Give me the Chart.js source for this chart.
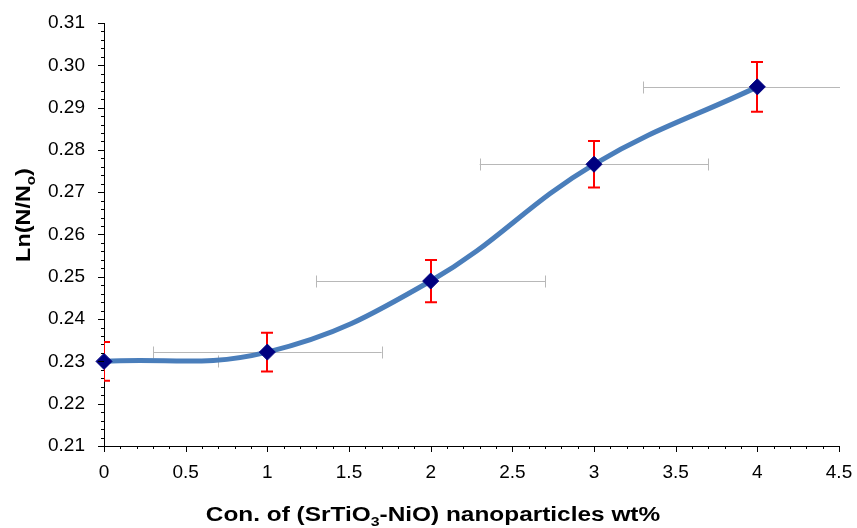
<!DOCTYPE html>
<html>
<head>
<meta charset="utf-8">
<script src="https://cdn.jsdelivr.net/npm/chart.js@4.4.0/dist/chart.umd.min.js"></script>
<style>
  html, body { margin: 0; padding: 0; background: #fff; }
  #wrap { width: 857px; height: 528px; }
</style>
</head>
<body>
<div id="wrap"><canvas id="chart"></canvas></div>
<script>
// concentration (wt%) and Ln(N/No)
const conc = [0, 1, 2, 3, 4];
const lnRatio = [0.2300, 0.2322, 0.2490, 0.2766, 0.2949];
const yErr = [0.0046, 0.0046, 0.0050, 0.0055, 0.0059];
const xErr = [0.7, 0.7, 0.7, 0.7, 0.7];

const points = conc.map((c, i) => ({ x: c, y: lnRatio[i] }));

// error bars, drawn behind the line
const errorBars = {
  id: 'errorBars',
  beforeDatasetsDraw(chart) {
    const { ctx, chartArea, scales } = chart;
    const xs = scales.x, ys = scales.y;
    ctx.save();
    ctx.beginPath();
    ctx.rect(chartArea.left, chartArea.top - 20, chartArea.right - chartArea.left + 1, chartArea.bottom - chartArea.top + 40);
    ctx.clip();
    // horizontal (grey)
    ctx.strokeStyle = '#b8b8b8';
    ctx.lineWidth = 1;
    conc.forEach((c, i) => {
      const y = Math.round(ys.getPixelForValue(lnRatio[i])) + 0.5;
      const x1 = xs.getPixelForValue(c - xErr[i]);
      const x2 = xs.getPixelForValue(c + xErr[i]);
      ctx.beginPath();
      ctx.moveTo(x1, y); ctx.lineTo(x2, y);
      ctx.moveTo(Math.round(x1) + 0.5, y - 6); ctx.lineTo(Math.round(x1) + 0.5, y + 6);
      ctx.moveTo(Math.round(x2) + 0.5, y - 6); ctx.lineTo(Math.round(x2) + 0.5, y + 6);
      ctx.stroke();
    });
    // vertical (red)
    ctx.strokeStyle = '#ff0000';
    ctx.lineWidth = 2;
    conc.forEach((c, i) => {
      const x = Math.round(xs.getPixelForValue(c));
      const y1 = ys.getPixelForValue(lnRatio[i] + yErr[i]);
      const y2 = ys.getPixelForValue(lnRatio[i] - yErr[i]);
      ctx.beginPath();
      ctx.moveTo(x, y1); ctx.lineTo(x, y2);
      ctx.moveTo(x - 6, y1); ctx.lineTo(x + 6, y1);
      ctx.moveTo(x - 6, y2); ctx.lineTo(x + 6, y2);
      ctx.stroke();
    });
    ctx.restore();
  }
};

// major + minor tick marks and axis titles with subscripts
const axisDecor = {
  id: 'axisDecor',
  afterDraw(chart) {
    const { ctx, chartArea, scales } = chart;
    const xs = scales.x, ys = scales.y;
    ctx.save();
    ctx.strokeStyle = '#000';
    ctx.lineWidth = 1;
    ctx.beginPath();
    for (let k = 0; k <= 50; k++) {
      const v = 0.21 + k * 0.002;
      const y = Math.round(ys.getPixelForValue(v)) + 0.5;
      const len = k % 5 === 0 ? 6 : 3;
      ctx.moveTo(chartArea.left - len, y); ctx.lineTo(chartArea.left, y);
    }
    for (let k = 0; k <= 45; k++) {
      const v = k * 0.1;
      const x = Math.round(xs.getPixelForValue(v)) + 0.5;
      const len = k % 5 === 0 ? 6 : 3;
      ctx.moveTo(x, chartArea.bottom); ctx.lineTo(x, chartArea.bottom + len);
    }
    ctx.stroke();

    // text with subscript parts: [text, isSub], stretched a little along the text
    function drawParts(parts, cx, cy, stretch) {
      const big = 'bold 20px "Liberation Sans", Arial, sans-serif';
      const small = 'bold 13px "Liberation Sans", Arial, sans-serif';
      let w = 0;
      parts.forEach(p => { ctx.font = p[1] ? small : big; w += ctx.measureText(p[0]).width; });
      ctx.save();
      ctx.translate(cx, cy);
      ctx.scale(stretch, 1);
      let x = -w / 2;
      ctx.textBaseline = 'middle';
      ctx.textAlign = 'left';
      ctx.fillStyle = '#000';
      parts.forEach(p => {
        ctx.font = p[1] ? small : big;
        ctx.fillText(p[0], x, p[1] ? 7 : 0);
        x += ctx.measureText(p[0]).width;
      });
      ctx.restore();
    }
    drawParts([['Con. of (SrTiO', false], ['3', true], ['-NiO) nanoparticles wt%', false]], 433, 515, 1.22);
    ctx.save();
    ctx.translate(24, 215);
    ctx.rotate(-Math.PI / 2);
    drawParts([['Ln(N/N', false], ['o', true], [')', false]], 0, 0, 1.17);
    ctx.restore();
    ctx.restore();
  }
};

new Chart(document.getElementById('chart'), {
  type: 'line',
  data: {
    datasets: [{
      data: points,
      borderColor: '#4a7ebb',
      borderWidth: 5,
      tension: 0.4,
      pointStyle: 'rectRot',
      pointRadius: 8,
      pointBackgroundColor: '#000080',
      pointBorderColor: '#000080',
      pointBorderWidth: 1,
      clip: false
    }]
  },
  options: {
    responsive: true,
    maintainAspectRatio: false,
    animation: false,
    events: [],
    layout: { padding: { top: 23, right: 18, left: 0, bottom: 0 } },
    plugins: { legend: { display: false }, tooltip: { enabled: false } },
    scales: {
      x: {
        type: 'linear',
        min: 0, max: 4.5,
        grid: { display: false, drawTicks: false },
        border: { display: true, color: '#000', width: 1 },
        ticks: {
          stepSize: 0.5,
          padding: 15,
          color: '#000',
          font: { family: '"Liberation Sans", Arial, sans-serif', size: 19 },
          callback: v => String(v)
        },
        afterFit: s => { s.height = 82; s.paddingLeft = 0; s.paddingRight = 0; }
      },
      y: {
        min: 0.21, max: 0.31,
        grid: { display: false, drawTicks: false },
        border: { display: true, color: '#000', width: 1 },
        ticks: {
          stepSize: 0.01,
          padding: 19,
          color: '#000',
          font: { family: '"Liberation Sans", Arial, sans-serif', size: 19 },
          callback: v => v.toFixed(2)
        },
        afterFit: s => { s.width = 104; s.paddingTop = 0; s.paddingBottom = 0; }
      }
    }
  },
  plugins: [errorBars, axisDecor]
});
</script>
</body>
</html>
